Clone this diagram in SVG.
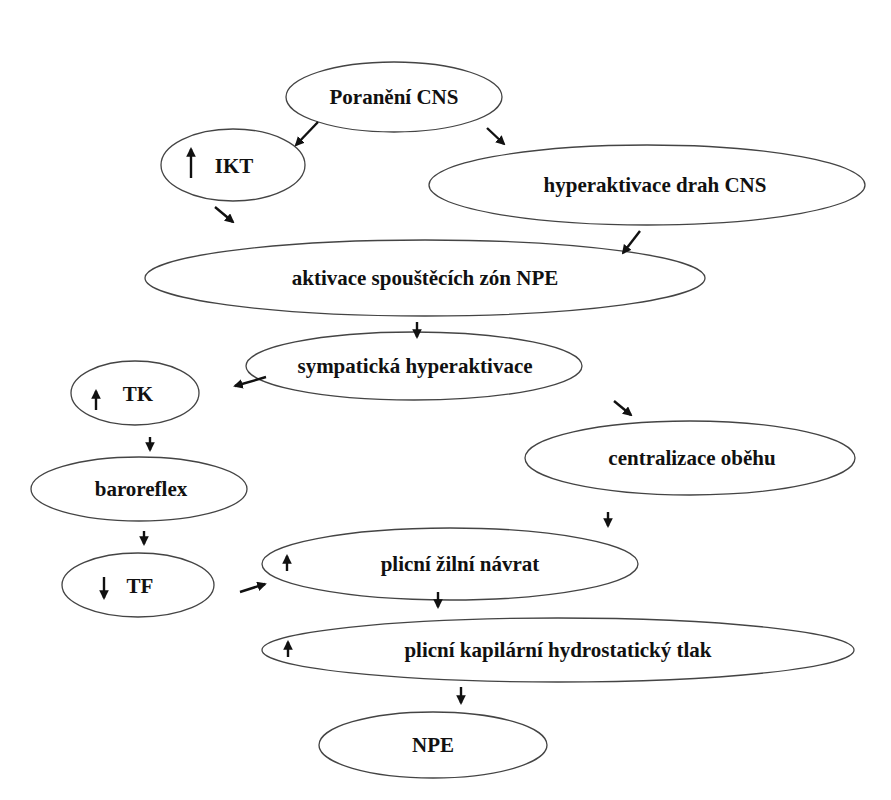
<svg xmlns="http://www.w3.org/2000/svg" width="891" height="800" viewBox="0 0 891 800">
<style>
ellipse{fill:#fff;stroke:#444;stroke-width:1.3}
text{font-family:"Liberation Serif",serif;font-weight:bold;font-size:21px;fill:#111;text-anchor:middle}
.c line{stroke:#111;stroke-width:2.4;marker-end:url(#a)}
</style>
<defs><marker id="a" viewBox="0 0 10 10" refX="8" refY="5" markerWidth="4" markerHeight="4" orient="auto"><path d="M0,0L10,5L0,10z" fill="#111"/></marker></defs>
<rect width="891" height="800" fill="#fff"/>
<g id="n1"><ellipse cx="394" cy="97" rx="108" ry="35"/><text x="394" y="104">Poranění CNS</text></g>
<g id="n2"><ellipse cx="233" cy="165" rx="72" ry="36"/><text x="234" y="173">IKT</text></g>
<g id="n3"><ellipse cx="647" cy="185" rx="218" ry="40"/><text x="655" y="192">hyperaktivace drah CNS</text></g>
<g id="n4"><ellipse cx="425" cy="278" rx="280" ry="38"/><text x="425" y="285">aktivace spouštěcích zón NPE</text></g>
<g id="n5"><ellipse cx="414" cy="366" rx="168" ry="34"/><text x="415" y="373">sympatická hyperaktivace</text></g>
<g id="n6"><ellipse cx="135" cy="393" rx="64" ry="32"/><text x="138" y="401">TK</text></g>
<g id="n7"><ellipse cx="690" cy="458" rx="165" ry="37"/><text x="692" y="465">centralizace oběhu</text></g>
<g id="n8"><ellipse cx="139" cy="489" rx="108" ry="32"/><text x="141" y="496">baroreflex</text></g>
<g id="n9"><ellipse cx="450" cy="564" rx="188" ry="36"/><text x="460" y="571">plicní žilní návrat</text></g>
<g id="n10"><ellipse cx="138" cy="585" rx="76" ry="32"/><text x="140" y="593">TF</text></g>
<g id="n11"><ellipse cx="558" cy="650" rx="296" ry="32"/><text x="558" y="657">plicní kapilární hydrostatický tlak</text></g>
<g id="n12"><ellipse cx="433" cy="745" rx="114" ry="33"/><text x="433" y="752">NPE</text></g>
<g class="c">
<line x1="191" y1="178" x2="191" y2="149"/>
<line x1="96" y1="410" x2="96" y2="391"/>
<line x1="104" y1="577" x2="104" y2="598"/>
<line x1="287" y1="571" x2="287" y2="556"/>
<line x1="288" y1="657" x2="288" y2="642"/>
</g>
<g id="connectors" class="c">
<line x1="318" y1="122" x2="296" y2="145"/>
<line x1="487" y1="128" x2="504" y2="144"/>
<line x1="215" y1="207" x2="233" y2="222"/>
<line x1="640" y1="231" x2="623" y2="253"/>
<line x1="417" y1="322" x2="417" y2="337"/>
<line x1="266" y1="377" x2="235" y2="386"/>
<line x1="614" y1="401" x2="631" y2="415"/>
<line x1="150" y1="437" x2="150" y2="450"/>
<line x1="144" y1="531" x2="144" y2="544"/>
<line x1="608" y1="512" x2="608" y2="526"/>
<line x1="240" y1="592" x2="265" y2="584"/>
<line x1="438" y1="592" x2="438" y2="607"/>
<line x1="461" y1="687" x2="461" y2="703"/>
</g>
</svg>
